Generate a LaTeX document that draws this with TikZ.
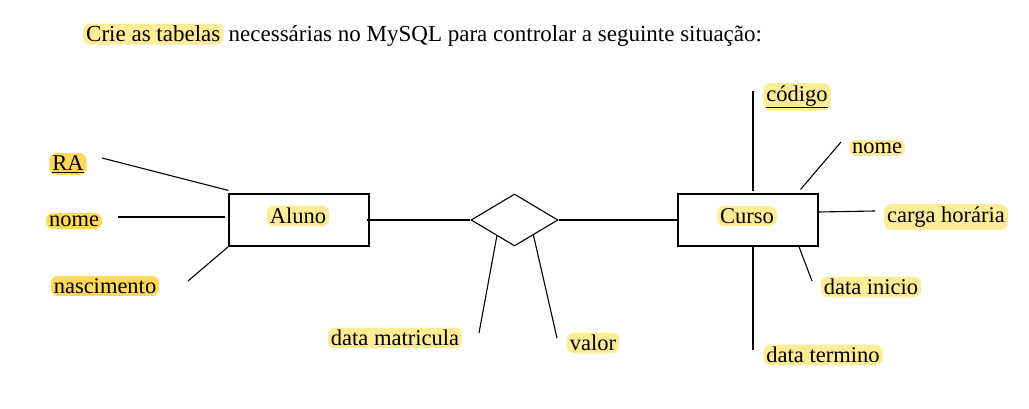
\documentclass[tikz,border=0pt]{standalone}
\usepackage{fontspec}
\setmainfont{Liberation Serif}
\usetikzlibrary{shapes.geometric,calc}
\definecolor{hlforte}{RGB}{255,216,92}
\definecolor{hlfraco}{RGB}{255,236,150}
\tikzset{
	marca/.style={fill=#1, rounded corners=7pt, inner xsep=3pt, inner ysep=2.5pt, font=\fontsize{22.5}{25}\selectfont},
	entidade/.style={draw, line width=1.1pt, minimum width=140pt, minimum height=52pt},
	ligacao/.style={line width=1.1pt}
}
\begin{document}
\begin{tikzpicture}[x=1pt, y=-1pt]
				\useasboundingbox (0,0) rectangle (1029,409);
				% enunciado
				\node[marca=hlfraco, anchor=base west, font=\fontsize{23}{26}\selectfont] (crie) at (83,42) {Crie as tabelas};
				\node[anchor=base west, inner xsep=0pt, font=\fontsize{23}{26}\selectfont] (resto) at ([xshift=5pt]crie.base east) {necessárias no MySQL para controlar a seguinte situação:};
				% entidades e relacionamento
				\node[entidade] (aluno) at (299,220) {};
				\node[entidade] (curso) at (748,220) {};
				\node[draw, diamond, line width=1.1pt, aspect=1.67, minimum width=87pt, minimum height=52pt, inner sep=0pt] (rel) at (514.5,220) {};
				\node[marca=hlfraco] at (298,216) {Aluno};
				\node[marca=hlfraco] at (747,216) {Curso};
				% atributos de Aluno
				\node[marca=hlforte] (ra) at (68,164) {\underline{RA}};
				\node[marca=hlforte] (nomeA) at (74,221) {nome};
				\node[marca=hlforte] (nasc) at (105,286) {nascimento};
				% atributos do relacionamento
				\node[marca=hlfraco] (dmat) at (395,338) {data matricula};
				\node[marca=hlfraco] (valor) at (593,343) {valor};
				% atributos de Curso
				\node[marca=hlfraco] (cod) at (797,97) {\underline{código}};
				\node[marca=hlfraco] (nomeC) at (877,148) {nome};
				\node[marca=hlfraco] (carga) at (946,217) {carga horária};
				\node[marca=hlfraco] (dini) at (871,287) {data inicio};
				\node[marca=hlfraco] (dterm) at (823,355) {data termino};
				% pontas soltas
				\coordinate (RA) at (102,158);
				\coordinate (NA) at (118,217);
				\coordinate (NS) at (188,281);
				\coordinate (DM) at (479,333);
				\coordinate (VL) at (557,338);
				\coordinate (CD) at (753,91);
				\coordinate (NC) at (841,142);
				\coordinate (CH) at (875,211);
				\coordinate (DI) at (812,281);
				\coordinate (DT) at (753,350);
				\draw[ligacao] (RA) -- ([yshift=3pt]aluno.north west);
				\draw[ligacao] (NA) -- ([xshift=-3pt,yshift=3pt]aluno.west);
				\draw[ligacao] (NS) -- (aluno.south west);
				\draw[ligacao] ([xshift=-3pt]aluno.east) -- (rel.west);
				\draw[ligacao] (rel.east) -- ([xshift=2pt]curso.west);
				\draw[ligacao] (DM) -- ($(rel.south)!0.4!(rel.west)$);
				\draw[ligacao] (VL) -- ($(rel.south)!0.43!(rel.east)$);
				\draw[ligacao] (CD) -- ([xshift=5pt,yshift=2pt]curso.north);
				\draw[ligacao] (NC) -- ([xshift=-18pt,yshift=4pt]curso.north east);
				\draw[ligacao] (CH) -- ([yshift=8pt]curso.east);
				\draw[ligacao] (DI) -- ([xshift=-20pt,yshift=1pt]curso.south east);
				\draw[ligacao] (DT) -- ([xshift=5pt,yshift=1pt]curso.south);
			\end{tikzpicture}
\end{document}
